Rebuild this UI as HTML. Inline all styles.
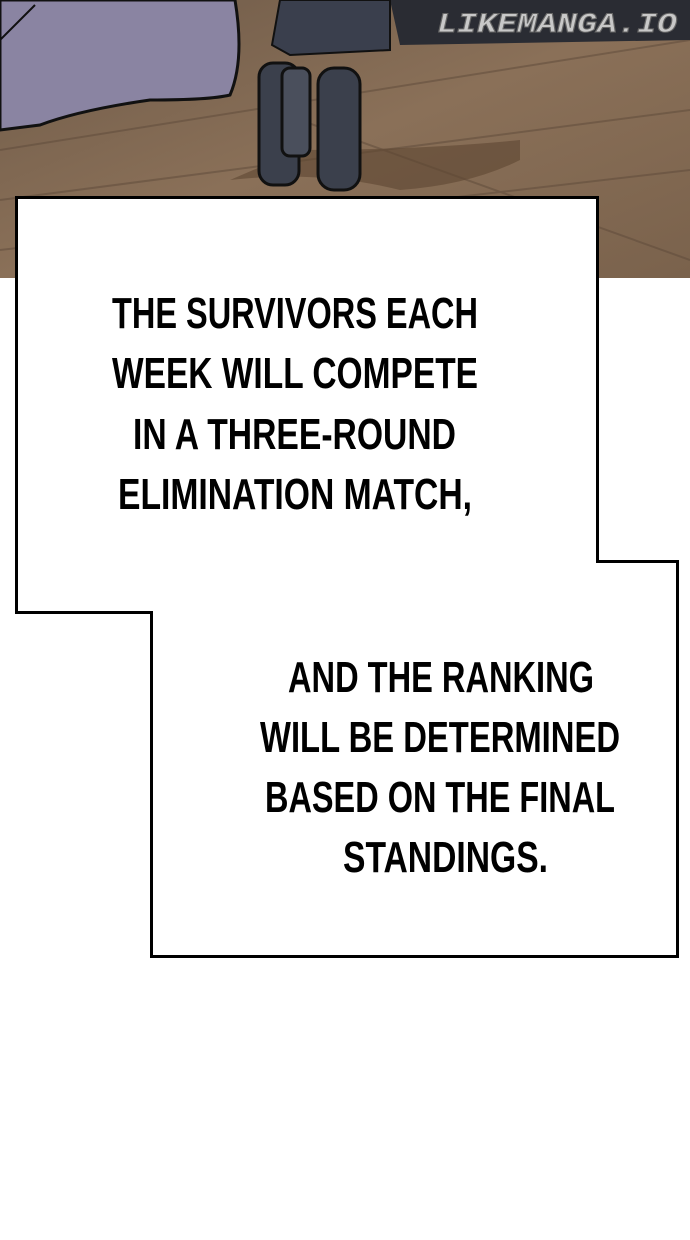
<!DOCTYPE html>
<html><head><meta charset="utf-8"><style>
html,body{margin:0;padding:0;background:#fff;width:690px;height:1240px;overflow:hidden}
svg{display:block}
</style></head><body>
<svg width="690" height="1240" viewBox="0 0 690 1240" xmlns="http://www.w3.org/2000/svg">
<defs>
<linearGradient id="wood" x1="0" y1="0" x2="1" y2="1">
<stop offset="0" stop-color="#6e5a48"/><stop offset="0.5" stop-color="#8a7058"/><stop offset="1" stop-color="#7a624c"/>
</linearGradient>
</defs>
<rect x="0" y="0" width="690" height="278" fill="url(#wood)"/>
<g stroke="#5e4a3a" stroke-width="2" opacity="0.5" fill="none">
<path d="M0 150 L690 40"/><path d="M0 200 L690 110"/><path d="M0 250 L690 170"/><path d="M140 225 L260 250"/><path d="M300 120 L690 260"/>
</g>
<path d="M230 180 Q320 170 400 190 Q470 185 520 160 L520 140 Q420 150 300 150 Z" fill="#5e4632" opacity="0.6"/>
<path d="M390 0 L690 0 L690 40 L400 45 Z" fill="#2a2c33"/>
<path d="M280 0 L390 0 L390 50 L290 55 L272 45 Z" fill="#3a3f4d" stroke="#111" stroke-width="2"/>
<rect x="259" y="63" width="40" height="122" rx="14" fill="#3b404c" stroke="#111" stroke-width="3"/>
<rect x="282" y="68" width="28" height="88" rx="8" fill="#4a4f5c" stroke="#111" stroke-width="3"/>
<rect x="318" y="68" width="42" height="122" rx="16" fill="#3b404c" stroke="#111" stroke-width="3"/>
<path d="M0 0 L235 0 Q245 60 230 95 Q210 100 150 100 Q80 110 40 125 L0 130 Z" fill="#8a84a2" stroke="#111" stroke-width="3"/>
<path d="M0 40 L35 5" stroke="#111" stroke-width="2"/>
<text x="677" y="32" text-anchor="end" font-family="Liberation Mono, monospace" font-weight="bold" font-style="italic" font-size="28" fill="#c8c8c8" stroke="#666" stroke-width="1" textLength="240" lengthAdjust="spacingAndGlyphs">LIKEMANGA.IO</text>
<path d="M16.5 197.5 L597.5 197.5 L597.5 561.5 L677.5 561.5 L677.5 956.5 L151.5 956.5 L151.5 612.5 L16.5 612.5 Z" fill="#fff" stroke="#000" stroke-width="3"/>
<g font-family="Liberation Sans, sans-serif" font-weight="bold" font-size="44" fill="#000" lengthAdjust="spacingAndGlyphs">
<text x="112" y="328" textLength="366" lengthAdjust="spacingAndGlyphs">THE SURVIVORS EACH</text>
<text x="112" y="388" textLength="366" lengthAdjust="spacingAndGlyphs">WEEK WILL COMPETE</text>
<text x="133" y="449" textLength="323" lengthAdjust="spacingAndGlyphs">IN A THREE-ROUND</text>
<text x="118" y="509" textLength="354" lengthAdjust="spacingAndGlyphs">ELIMINATION MATCH,</text>
<text x="288" y="692" textLength="306" lengthAdjust="spacingAndGlyphs">AND THE RANKING</text>
<text x="260" y="752" textLength="360" lengthAdjust="spacingAndGlyphs">WILL BE DETERMINED</text>
<text x="265" y="812" textLength="350" lengthAdjust="spacingAndGlyphs">BASED ON THE FINAL</text>
<text x="343" y="872" textLength="205" lengthAdjust="spacingAndGlyphs">STANDINGS.</text>
</g>
</svg>
</body></html>
